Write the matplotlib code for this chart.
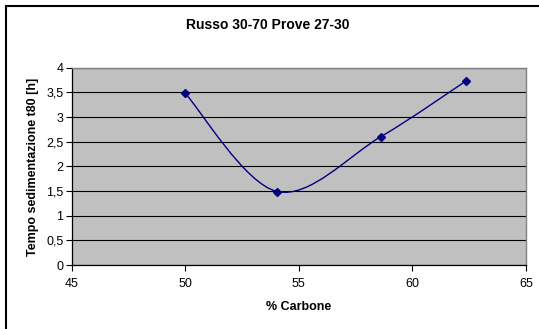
import matplotlib.pyplot as plt
import numpy as np
from matplotlib.path import Path
from matplotlib.patches import PathPatch, Rectangle

plt.rcParams['font.family'] = ['Liberation Sans', 'DejaVu Sans']

# Dati
carbone = [50.0, 54.05, 58.6, 62.35]
tempo = [3.48, 1.49, 2.60, 3.73]

xlim = (45, 65)
ylim = (0, 4)
xticks = [45, 50, 55, 60, 65]
yticks = [0, 0.5, 1, 1.5, 2, 2.5, 3, 3.5, 4]
ytick_labels = ['0', '0,5', '1', '1,5', '2', '2,5', '3', '3,5', '4']

fig = plt.figure(figsize=(5.39, 3.29), dpi=100)
ax = fig.add_axes([0.133, 0.1945, 0.843, 0.5995])

# cornice esterna (stile Excel)
fig.patches.append(Rectangle((6 / 539, -0.1), 1.2, 1 - 6 / 329 + 0.1,
                             transform=fig.transFigure, fill=False,
                             edgecolor='black', linewidth=1.5))

ax.set_facecolor('#c0c0c0')
ax.set_xlim(*xlim)
ax.set_ylim(*ylim)
ax.set_xticks(xticks)
ax.set_yticks(yticks)
ax.set_yticklabels(ytick_labels)
ax.tick_params(direction='out', length=4, width=0.8, labelsize=9, colors='black', pad=5)
ax.tick_params(axis='y', pad=2)
for s in ['top', 'right']:
    ax.spines[s].set_color('#808080')
    ax.spines[s].set_linewidth(1)
for s in ['left', 'bottom']:
    ax.spines[s].set_color('black')
    ax.spines[s].set_linewidth(0.9)
ax.grid(axis='y', color='black', linewidth=0.8)
ax.set_axisbelow(True)

# curva smussata (Bezier come Excel) calcolata in coordinate assi
w = ax.get_position().width * 539
h = ax.get_position().height * 329
px = (np.array(carbone) - xlim[0]) / (xlim[1] - xlim[0]) * w
py = (np.array(tempo) - ylim[0]) / (ylim[1] - ylim[0]) * h
pts = np.column_stack([px, py])
n = len(pts)
verts = [pts[0]]
codes = [Path.MOVETO]
for i in range(n - 1):
    p0 = pts[i - 1] if i > 0 else pts[i]
    p1 = pts[i]
    p2 = pts[i + 1]
    p3 = pts[i + 2] if i + 2 < n else pts[i + 1]
    c1 = p1 + (p2 - p0) / 6
    c2 = p2 - (p3 - p1) / 6
    verts += [c1, c2, p2]
    codes += [Path.CURVE4] * 3
verts = np.array(verts) / np.array([w, h])
ax.add_patch(PathPatch(Path(verts, codes), transform=ax.transAxes,
                       facecolor='none', edgecolor='#000080', linewidth=1))
ax.plot(carbone, tempo, linestyle='none', marker='D', markersize=4.5,
        color='#000080', zorder=5)

ax.set_xlabel('% Carbone', fontsize=9, fontweight='bold', labelpad=8)
ax.set_ylabel('Tempo sedimentazione t80 [h]', fontsize=9, fontweight='bold', labelpad=5)
fig.text(0.497, 0.924, 'Russo 30-70 Prove 27-30', ha='center', va='center',
         fontsize=10, fontweight='bold')

fig.savefig('out.png', dpi=100, facecolor='white')
